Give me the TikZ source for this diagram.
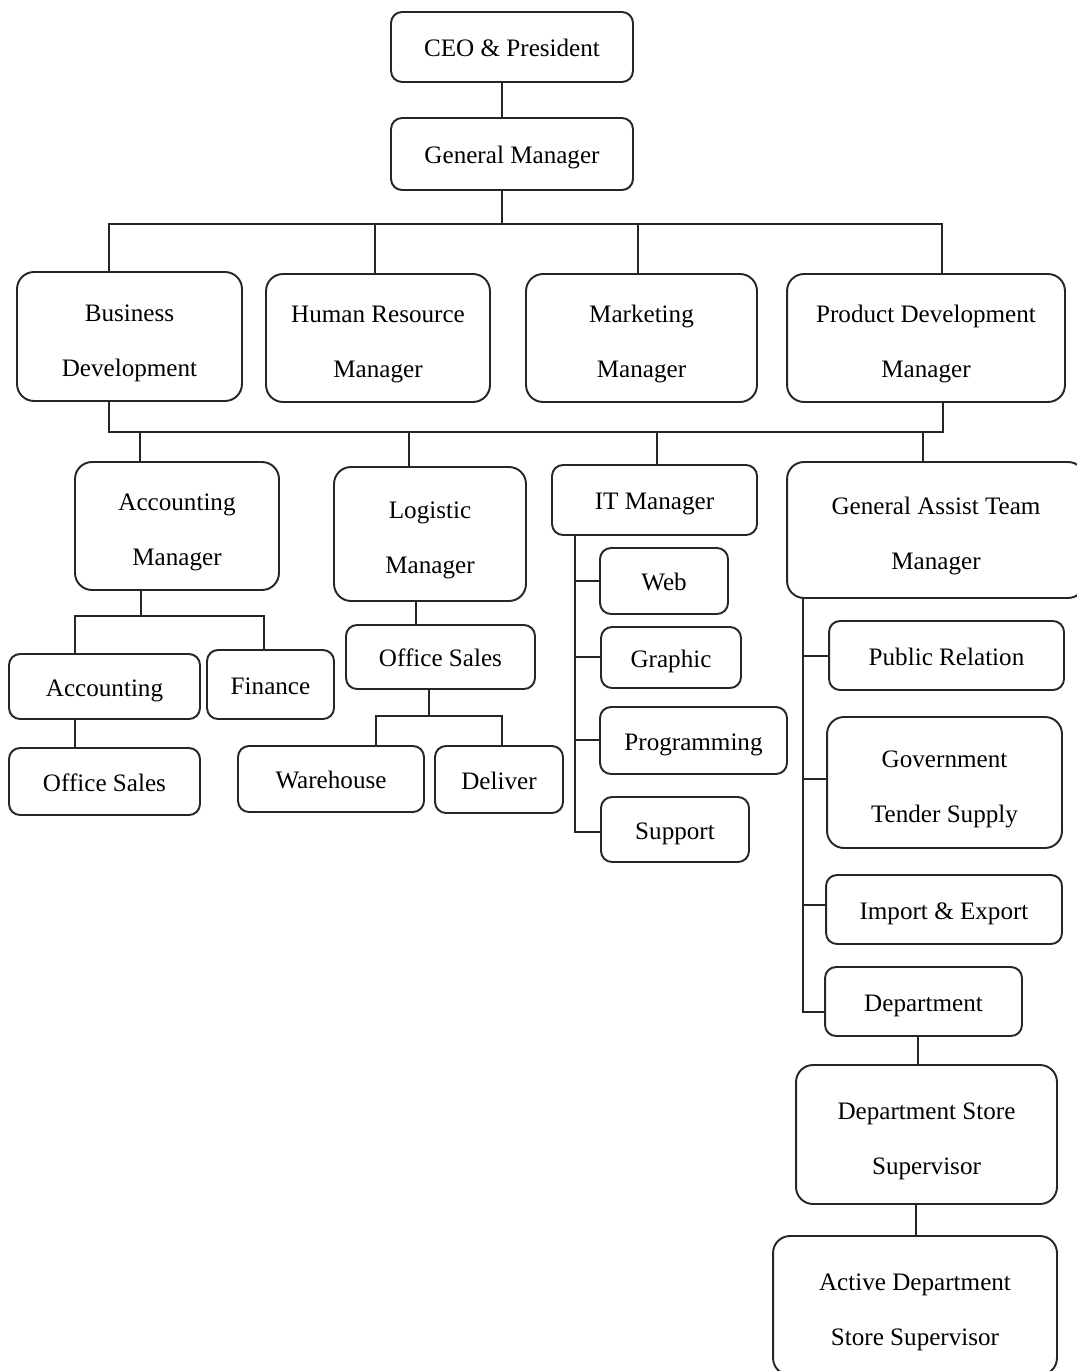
\documentclass[tikz,border=0pt]{standalone}
\usepackage{fontspec}
\setmainfont{Liberation Serif}
\usepackage{tikz}

\begin{document}
\begin{tikzpicture}[x=0.02cm,y=-0.02cm]
\tikzstyle{box}=[draw=black!85, line width=1.1pt, rounded corners=0.22cm, align=center, inner sep=0pt, text height=14pt, text depth=3pt, font=\fontsize{14.3}{17}\selectfont]
\tikzstyle{bigbox}=[box, rounded corners=0.34cm, text height=48pt, text depth=3pt, font=\fontsize{14.3}{31.3}\selectfont]
\tikzstyle{link}=[draw=black!85, line width=1.1pt]
\useasboundingbox (0,0) rectangle (1077,1371);
\node [box, minimum width=4.84cm, minimum height=1.40cm] (ceo) at (512,47) {CEO \& President};
\node [box, minimum width=4.84cm, minimum height=1.44cm] (gm) at (512,154) {General Manager};
\node [bigbox, minimum width=4.50cm, minimum height=2.58cm] (bd) at (129.5,336.5) {Business\\Development};
\node [bigbox, minimum width=4.48cm, minimum height=2.56cm] (hr) at (378,338) {Human Resource\\Manager};
\node [bigbox, minimum width=4.62cm, minimum height=2.56cm] (mk) at (641.5,338) {Marketing\\Manager};
\node [bigbox, minimum width=5.56cm, minimum height=2.56cm] (pd) at (926,338) {Product Development\\Manager};
\node [bigbox, minimum width=4.08cm, minimum height=2.56cm] (am) at (177,526) {Accounting\\Manager};
\node [bigbox, minimum width=3.84cm, minimum height=2.68cm] (lm) at (430,534) {Logistic\\Manager};
\node [box, minimum width=4.10cm, minimum height=1.40cm] (it) at (654.5,500) {IT Manager};
\node [bigbox, minimum width=5.96cm, minimum height=2.72cm] (ga) at (936,530) {General Assist Team\\Manager};
\node [box, minimum width=3.82cm, minimum height=1.30cm] (acc) at (104.5,686.5) {Accounting};
\node [box, minimum width=2.54cm, minimum height=1.38cm] (fin) at (270.5,684.5) {Finance};
\node [box, minimum width=3.82cm, minimum height=1.34cm] (os1) at (104.5,781.5) {Office Sales};
\node [box, minimum width=3.78cm, minimum height=1.28cm] (os2) at (440.5,657) {Office Sales};
\node [box, minimum width=3.72cm, minimum height=1.32cm] (wh) at (331,779) {Warehouse};
\node [box, minimum width=2.56cm, minimum height=1.34cm] (dl) at (499,779.5) {Deliver};
\node [box, minimum width=2.56cm, minimum height=1.32cm] (web) at (664,581) {Web};
\node [box, minimum width=2.80cm, minimum height=1.22cm] (gr) at (671,657.5) {Graphic};
\node [box, minimum width=3.74cm, minimum height=1.34cm] (prog) at (693.5,740.5) {Programming};
\node [box, minimum width=2.96cm, minimum height=1.30cm] (sup) at (675,829.5) {Support};
\node [box, minimum width=4.70cm, minimum height=1.38cm] (pr) at (946.5,655.5) {Public Relation};
\node [bigbox, minimum width=4.70cm, minimum height=2.62cm] (gov) at (944.5,782.5) {Government\\Tender Supply};
\node [box, minimum width=4.72cm, minimum height=1.38cm] (ie) at (944,909.5) {Import \& Export};
\node [box, minimum width=3.94cm, minimum height=1.38cm] (dep) at (923.5,1001.5) {Department};
\node [bigbox, minimum width=5.22cm, minimum height=2.78cm] (dss) at (926.5,1134.5) {Department Store\\Supervisor};
\node [bigbox, minimum width=5.68cm, minimum height=2.78cm] (adss) at (915,1305.5) {Active Department\\Store Supervisor};
\coordinate (c0) at (502,224);
\coordinate (t1) at (109,224);
\coordinate (t2) at (375,224);
\coordinate (t3) at (638,224);
\coordinate (t4) at (942,224);
\coordinate (u1) at (109,432);
\coordinate (u4) at (943,432);
\coordinate (v1) at (140,432);
\coordinate (v2) at (409,432);
\coordinate (v3) at (657,432);
\coordinate (v4) at (923,432);
\coordinate (w0) at (141,616);
\coordinate (w1) at (75,616);
\coordinate (w2) at (264,616);
\coordinate (l0) at (416,612);
\coordinate (z0) at (429,716);
\coordinate (z1) at (376,716);
\coordinate (z2) at (502,716);
\coordinate (i1) at (575,581);
\coordinate (i2) at (575,657);
\coordinate (i3) at (575,740);
\coordinate (i4) at (575,832);
\coordinate (g1) at (803,656);
\coordinate (g2) at (803,779);
\coordinate (g3) at (803,905);
\coordinate (g4) at (803,1012);
\coordinate (d1) at (918,1050);
\coordinate (d2) at (916,1220);
\draw [link] (ceo.south -| c0) -- (gm.north -| c0);
\draw [link] (gm.south -| c0) -- (c0);
\draw [link] (bd.north -| t1) -- (t1) -- (t4) -- (pd.north -| t4);
\draw [link] (t2) -- (hr.north -| t2);
\draw [link] (t3) -- (mk.north -| t3);
\draw [link] (bd.south -| u1) -- (u1) -- (u4) -- (pd.south -| u4);
\draw [link] (v1) -- (am.north -| v1);
\draw [link] (v2) -- (lm.north -| v2);
\draw [link] (v3) -- (it.north -| v3);
\draw [link] (v4) -- (ga.north -| v4);
\draw [link] (am.south -| w0) -- (w0);
\draw [link] (acc.north -| w1) -- (w1) -- (w2) -- (fin.north -| w2);
\draw [link] (acc.south -| w1) -- (os1.north -| w1);
\draw [link] (lm.south -| l0) -- (os2.north -| l0);
\draw [link] (os2.south -| z0) -- (z0);
\draw [link] (wh.north -| z1) -- (z1) -- (z2) -- (dl.north -| z2);
\draw [link] (it.south -| i4) -- (i4) -- (sup.west |- i4);
\draw [link] (i1) -- (web.west |- i1);
\draw [link] (i2) -- (gr.west |- i2);
\draw [link] (i3) -- (prog.west |- i3);
\draw [link] (ga.south -| g4) -- (g4) -- (dep.west |- g4);
\draw [link] (g1) -- (pr.west |- g1);
\draw [link] (g2) -- (gov.west |- g2);
\draw [link] (g3) -- (ie.west |- g3);
\draw [link] (dep.south -| d1) -- (dss.north -| d1);
\draw [link] (dss.south -| d2) -- (adss.north -| d2);
\end{tikzpicture}
\end{document}
